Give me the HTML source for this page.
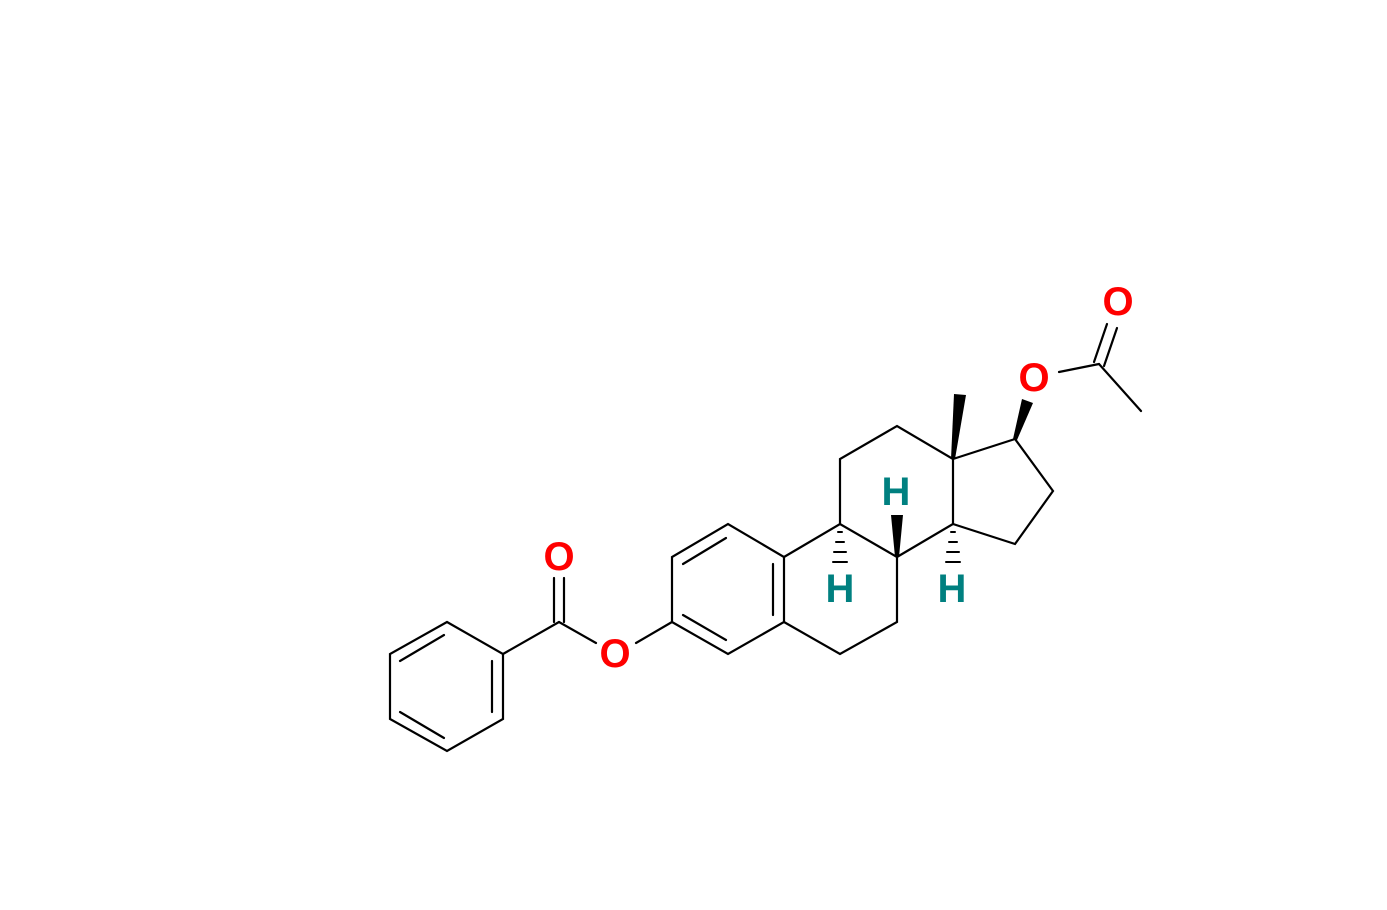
<!DOCTYPE html>
<html><head><meta charset="utf-8"><style>body{margin:0;background:#fff}svg{display:block}</style></head>
<body>
<svg width="1387" height="910" viewBox="0 0 1387 910" xmlns="http://www.w3.org/2000/svg">
<g stroke="#000" stroke-width="2.2" fill="none" stroke-linecap="round">
<polyline points="447,622 503,654 503,719 447,751 390,719 390,654 447,622"/>
<line x1="492" y1="661" x2="492" y2="712"/>
<line x1="444" y1="738" x2="400" y2="712"/>
<line x1="400" y1="661" x2="444" y2="635"/>
<line x1="503" y1="654" x2="559" y2="622"/>
<line x1="554" y1="622" x2="554" y2="578"/>
<line x1="564" y1="622" x2="564" y2="578"/>
<line x1="559" y1="622" x2="596" y2="643"/>
<line x1="636" y1="643" x2="672" y2="622"/>
<polyline points="672,622 672,557 728,524 784,557 784,622 728,654 672,622"/>
<line x1="683" y1="564" x2="726" y2="538"/>
<line x1="773" y1="564" x2="773" y2="615"/>
<line x1="683" y1="615" x2="726" y2="640"/>
<polyline points="784,557 840,524 897,557 897,622 840,654 784,622"/>
<polyline points="840,524 840,459 897,426 953,459 953,524 897,557"/>
<polyline points="953,459 1015,439 1053,491 1015,544 953,524"/>
<line x1="1059" y1="372" x2="1099" y2="364"/>
<line x1="1099" y1="364" x2="1141" y2="411"/>
<line x1="1094" y1="362" x2="1107" y2="324"/>
<line x1="1104" y1="366" x2="1117" y2="328"/>
<g stroke-width="2">
<line x1="838" y1="532" x2="842" y2="532"/>
<line x1="836" y1="542" x2="844" y2="542"/>
<line x1="834" y1="552" x2="846" y2="552"/>
<line x1="833" y1="562" x2="847" y2="562"/>
<line x1="951" y1="532" x2="955" y2="532"/>
<line x1="949" y1="542" x2="957" y2="542"/>
<line x1="947" y1="552" x2="959" y2="552"/>
<line x1="946" y1="562" x2="960" y2="562"/>
</g>
</g>
<g fill="#000">
<polygon points="951,459 955,459 966,395 954,394"/>
<polygon points="1013,439 1017,440 1033,403 1022,399"/>
<polygon points="895,557 899,557 903,515 891,515"/>
</g>
<g font-family="Liberation Sans, sans-serif" font-weight="bold" font-size="40" text-anchor="middle">
<text x="559" y="570" fill="#f00">O</text>
<text x="615" y="667" fill="#f00">O</text>
<text x="1034" y="391" fill="#f00">O</text>
<text x="1118" y="315" fill="#f00">O</text>
<text x="896" y="505" fill="#008080">H</text>
<text x="840" y="602" fill="#008080">H</text>
<text x="952" y="602" fill="#008080">H</text>
</g>
</svg>
</body></html>
